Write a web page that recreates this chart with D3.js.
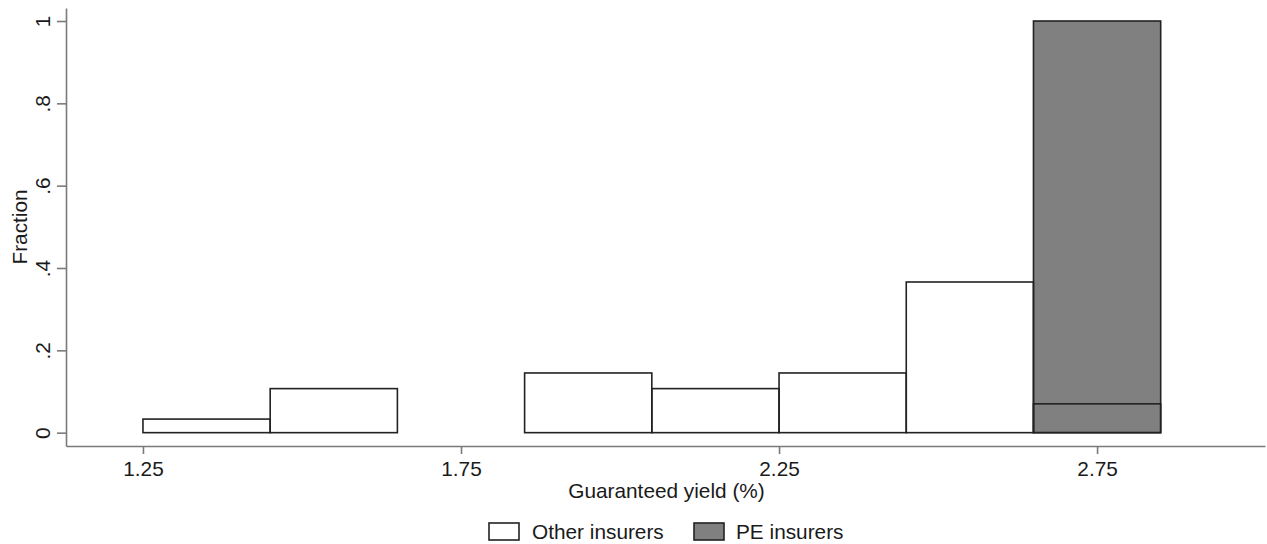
<!DOCTYPE html>
<html><head><meta charset="utf-8">
<script src="https://cdn.jsdelivr.net/npm/d3@7/dist/d3.min.js"></script>
<style>html,body{margin:0;padding:0;background:#fff;}</style>
</head><body>
<svg id="chart" width="1267" height="544"></svg>
<script>
// Data
const binStarts = [1.25, 1.45, 1.65, 1.85, 2.05, 2.25, 2.45, 2.65];
const binWidth = 0.2;
const otherFrac = [0.033, 0.107, 0, 0.145, 0.107, 0.145, 0.366, 0.070];
const peFrac    = [0, 0, 0, 0, 0, 0, 0, 1.0];
const xTicks = [1.25, 1.75, 2.25, 2.75];
const xTickLabels = ["1.25", "1.75", "2.25", "2.75"];
const yTicks = [0, 0.2, 0.4, 0.6, 0.8, 1];
const yTickLabels = ["0", ".2", ".4", ".6", ".8", "1"];
const seriesNames = ["Other insurers", "PE insurers"];

const svg = d3.select("#chart");
const font = "'Liberation Sans', Arial, sans-serif";
const fs = 20.8;
const txt = "#1a1a1a";
const axisCol = "#7a7a7a";
const barStroke = "#222";
const peFill = "#808080";

const x = d3.scaleLinear().domain([1.129, 3.014]).range([66, 1265]);
const y = d3.scaleLinear().domain([-0.0324, 1.0316]).range([446, 8]);

// PE bars first
const peData = binStarts.map((s, i) => ({s, v: peFrac[i]})).filter(d => d.v > 0);
svg.append("g").selectAll("rect").data(peData).join("rect")
  .attr("x", d => x(d.s)).attr("width", d => x(d.s + binWidth) - x(d.s))
  .attr("y", d => y(d.v)).attr("height", d => y(0) - y(d.v))
  .attr("fill", peFill).attr("stroke", barStroke).attr("stroke-width", 1.6);

// Other bars
const otData = binStarts.map((s, i) => ({s, v: otherFrac[i]})).filter(d => d.v > 0);
svg.append("g").selectAll("rect").data(otData).join("rect")
  .attr("x", d => x(d.s)).attr("width", d => x(d.s + binWidth) - x(d.s))
  .attr("y", d => y(d.v)).attr("height", d => y(0) - y(d.v))
  .attr("fill", "none").attr("stroke", barStroke).attr("stroke-width", 1.6);

// X axis
const xAxis = d3.axisBottom(x).tickValues(xTicks).tickFormat((d, i) => xTickLabels[i]).tickSize(8).tickPadding(7).tickSizeOuter(0);
const gx = svg.append("g").attr("transform", `translate(0,${y.range()[0]})`).call(xAxis);
gx.select(".domain").attr("stroke", axisCol).attr("stroke-width", 1.6);
gx.selectAll(".tick line").attr("stroke", axisCol).attr("stroke-width", 1.6);
gx.selectAll(".tick text").attr("font-family", font).attr("font-size", fs).attr("fill", txt);

// Y axis
const yAxis = d3.axisLeft(y).tickValues(yTicks).tickFormat((d, i) => yTickLabels[i]).tickSize(9).tickPadding(7).tickSizeOuter(0);
const gy = svg.append("g").attr("transform", `translate(${x.range()[0]},0)`).call(yAxis);
gy.select(".domain").attr("stroke", axisCol).attr("stroke-width", 1.6);
gy.selectAll(".tick line").attr("stroke", axisCol).attr("stroke-width", 1.6);
gy.selectAll(".tick text")
  .attr("font-family", font).attr("font-size", fs).attr("fill", txt)
  .attr("x", null).attr("dy", null)
  .attr("text-anchor", "middle")
  .attr("transform", "translate(-16,0) rotate(-90)");

// Axis titles
svg.append("text").attr("x", (x.range()[0] + x.range()[1]) / 2 + 1).attr("y", 498)
  .attr("text-anchor", "middle").attr("font-family", font).attr("font-size", fs).attr("fill", txt)
  .text("Guaranteed yield (%)");
svg.append("text").attr("transform", `translate(27,${(y.range()[0] + y.range()[1]) / 2}) rotate(-90)`)
  .attr("text-anchor", "middle").attr("font-family", font).attr("font-size", fs).attr("fill", txt)
  .text("Fraction");

// Legend
const legend = [
  {name: seriesNames[0], fill: "#fff", bx: 489, tx: 532},
  {name: seriesNames[1], fill: peFill, bx: 694, tx: 736}
];
const lg = svg.append("g");
legend.forEach(l => {
  lg.append("rect").attr("x", l.bx).attr("y", 523).attr("width", 30).attr("height", 17)
    .attr("fill", l.fill).attr("stroke", barStroke).attr("stroke-width", 1.6);
  lg.append("text").attr("x", l.tx).attr("y", 539).attr("font-family", font).attr("font-size", fs)
    .attr("fill", txt).text(l.name);
});
</script>
</body></html>
